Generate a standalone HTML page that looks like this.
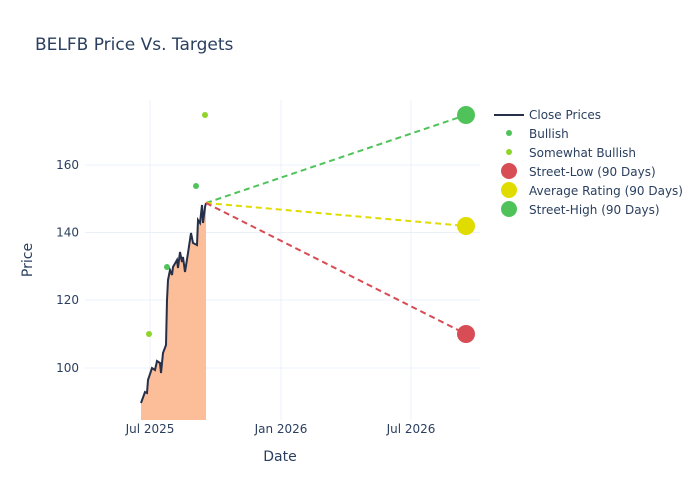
<!DOCTYPE html>
<html><head><style>body{margin:0;background:#fff}svg{display:block}text{font-family:"DejaVu Sans","Liberation Sans",sans-serif;fill:#2a3f5f}</style></head>
<body>
<svg width="700" height="500" xmlns="http://www.w3.org/2000/svg">
<text x="35" y="50" font-size="17">BELFB Price Vs. Targets</text>
<g stroke="#ebf0f8" stroke-width="1">
<line x1="85" x2="480" y1="165" y2="165"/><line x1="85" x2="480" y1="232.5" y2="232.5"/>
<line x1="85" x2="480" y1="300" y2="300"/><line x1="85" x2="480" y1="368" y2="368"/>
<line x1="150" x2="150" y1="100" y2="420"/><line x1="281" x2="281" y1="100" y2="420"/><line x1="411" x2="411" y1="100" y2="420"/>
</g>
<g font-size="12" text-anchor="end">
<text x="79" y="169">160</text><text x="79" y="236.5">140</text><text x="79" y="304">120</text><text x="79" y="372">100</text>
</g>
<g font-size="12" text-anchor="middle">
<text x="150" y="433">Jul 2025</text><text x="281" y="433">Jan 2026</text><text x="411" y="433">Jul 2026</text>
</g>
<text x="280" y="461" font-size="14" text-anchor="middle">Date</text>
<text x="32" y="260" font-size="14" text-anchor="middle" transform="rotate(-90 32 260)">Price</text>
<path d="M141,403 L145,392 L147,393 L148,380 L152,368 L155,370 L157,361 L160,363 L161,373 L163,353 L166,345 L167,300 L168,280 L170,270 L172,275 L173,267 L177,260 L178,268 L180,252 L182,262 L183,257 L185,272 L188,253 L191,233 L193,243 L197,245 L198,220 L200,223 L202,205 L203,223 L205,207 L206,203 L206,420 L141,420 Z" fill="#fbbe99"/>
<polyline points="141,403 145,392 147,393 148,380 152,368 155,370 157,361 160,363 161,373 163,353 166,345 167,300 168,280 170,270 172,275 173,267 177,260 178,268 180,252 182,262 183,257 185,272 188,253 191,233 193,243 197,245 198,220 200,223 202,205 203,223 205,207 206,203" fill="none" stroke="#263049" stroke-width="2"/>
<line x1="206" y1="203" x2="466" y2="115" stroke="#4fc35a" stroke-width="2" stroke-dasharray="6,4"/>
<line x1="206" y1="203" x2="466" y2="226" stroke="#e0dc00" stroke-width="2" stroke-dasharray="6,4"/>
<line x1="206" y1="203" x2="466" y2="334" stroke="#d84c55" stroke-width="2" stroke-dasharray="6,4"/>
<circle cx="167" cy="267" r="3" fill="#4fc35a"/><circle cx="196" cy="186" r="3" fill="#4fc35a"/>
<circle cx="149" cy="334" r="3" fill="#8fd42a"/><circle cx="205" cy="115" r="3" fill="#8fd42a"/>
<circle cx="466" cy="115" r="9" fill="#4fc35a"/><circle cx="466" cy="226" r="9" fill="#e0dc00"/><circle cx="466" cy="334" r="9" fill="#d84c55"/>
<g font-size="12">
<line x1="494" x2="524" y1="115" y2="115" stroke="#263049" stroke-width="2"/><text x="529" y="119">Close Prices</text>
<circle cx="509" cy="133" r="3" fill="#4fc35a"/><text x="529" y="138">Bullish</text>
<circle cx="509" cy="152" r="3" fill="#8fd42a"/><text x="529" y="157">Somewhat Bullish</text>
<circle cx="509" cy="171" r="8" fill="#d84c55"/><text x="529" y="176">Street-Low (90 Days)</text>
<circle cx="509" cy="190" r="8" fill="#e0dc00"/><text x="529" y="195">Average Rating (90 Days)</text>
<circle cx="509" cy="209" r="8" fill="#4fc35a"/><text x="529" y="214">Street-High (90 Days)</text>
</g>
</svg>
</body></html>
